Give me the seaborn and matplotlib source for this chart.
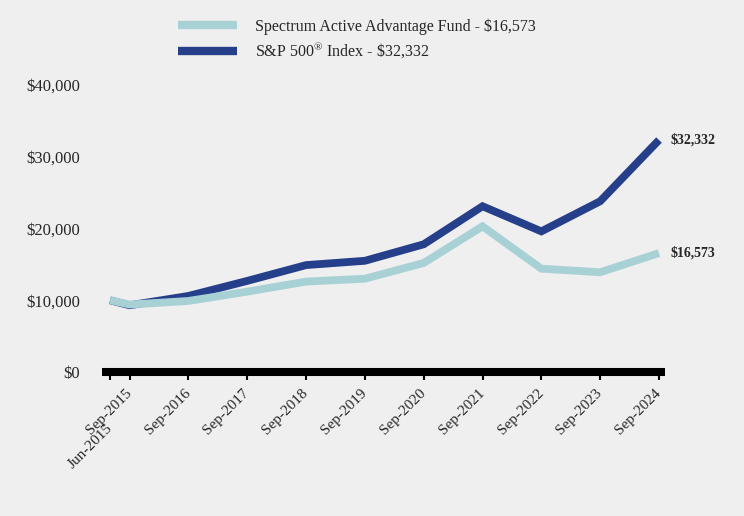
import numpy as np
import pandas as pd
import matplotlib
matplotlib.use("Agg")
import matplotlib.pyplot as plt
import matplotlib.transforms as mtransforms
import seaborn as sns

# data
periods = ["Jun-2015", "Sep-2015", "Sep-2016", "Sep-2017", "Sep-2018", "Sep-2019",
           "Sep-2020", "Sep-2021", "Sep-2022", "Sep-2023", "Sep-2024"]
fund = [10000, 9400, 9900, 11200, 12600, 13000, 15200, 20300, 14400, 13900, 16573]
sp500 = [10000, 9300, 10600, 12700, 14900, 15500, 17800, 23100, 19600, 23800, 32332]

fund_name = "Spectrum Active Advantage Fund - \\$16,573"
sp_name = "S&P 500$^{\\mathrm{®}}$ Index - \\$32,332"

# fractional year positions (month end)
xpos = [int(p.split("-")[1]) + (5 / 12 if p.startswith("Jun") else 0.75) for p in periods]

df = pd.DataFrame({"x": xpos * 2,
                   "value": fund + sp500,
                   "series": [fund_name] * len(fund) + [sp_name] * len(sp500)})

sns.set_style("white")
plt.rcParams["font.family"] = ["Liberation Serif", "DejaVu Serif"]
plt.rcParams["mathtext.fontset"] = "custom"
plt.rcParams["mathtext.rm"] = "Liberation Serif"

bg = "#efefef"
fig = plt.figure(figsize=(7.44, 5.16), dpi=100, facecolor=bg)
ax = fig.add_axes([102 / 744, (516 - 372) / 516, 563 / 744, 287 / 516])
ax.set_facecolor(bg)

colors = {fund_name: "#a8d1d6", sp_name: "#253f8b"}
# fund line drawn last so it sits on top where the two overlap
sns.lineplot(data=df, x="x", y="value", hue="series", palette=colors,
             hue_order=[sp_name, fund_name], linewidth=5.6, ax=ax, legend=False)
for ln in ax.lines:
    ln.set_solid_capstyle("butt")
    ln.set_solid_joinstyle("miter")
    ln.set_clip_on(False)

ax.set_ylim(0, 40000)
ax.set_xlim(xpos[0] - 0.136, xpos[-1] + 0.102)
ax.set_yticks([0, 10000, 20000, 30000, 40000])
ax.set_yticklabels(["$0", "$10,000", "$20,000", "$30,000", "$40,000"], fontsize=12)
ax.set_xticks(xpos)
ax.set_xticklabels(periods, rotation=45, ha="right", va="center", rotation_mode="anchor", fontsize=11)
ax.set_xlabel("")
ax.set_ylabel("")

for s in ["top", "right", "left"]:
    ax.spines[s].set_visible(False)
ax.spines["bottom"].set_linewidth(5.8)
ax.spines["bottom"].set_color("black")
ax.spines["bottom"].set_capstyle("butt")
ax.tick_params(axis="x", bottom=True, length=6, width=1.5, color="black", pad=8, direction="out")
ax.tick_params(axis="y", left=False, length=0, pad=16)

# Jun-2015 label sits lower than the rest
first = ax.get_xticklabels()[0]
first.set_transform(first.get_transform() + mtransforms.ScaledTranslation(0, -25 / 72, fig.dpi_scale_trans))

# end labels
ax.text(xpos[-1] + 0.2, sp500[-1], "$32,332", fontsize=10, fontweight="bold", va="center")
ax.text(xpos[-1] + 0.2, fund[-1], "$16,573", fontsize=10, fontweight="bold", va="center")

# legend
handles = [plt.Line2D([], [], color=colors[fund_name], linewidth=6, solid_capstyle="butt"),
           plt.Line2D([], [], color=colors[sp_name], linewidth=6, solid_capstyle="butt")]
fig.legend(handles, [fund_name, sp_name], loc="upper left", bbox_to_anchor=(164 / 744, 1 - 4 / 516),
           frameon=False, fontsize=11.5, handlelength=3.7, handletextpad=1.1, labelspacing=0.35)

fig.savefig("out.png", dpi=100, facecolor=bg)
